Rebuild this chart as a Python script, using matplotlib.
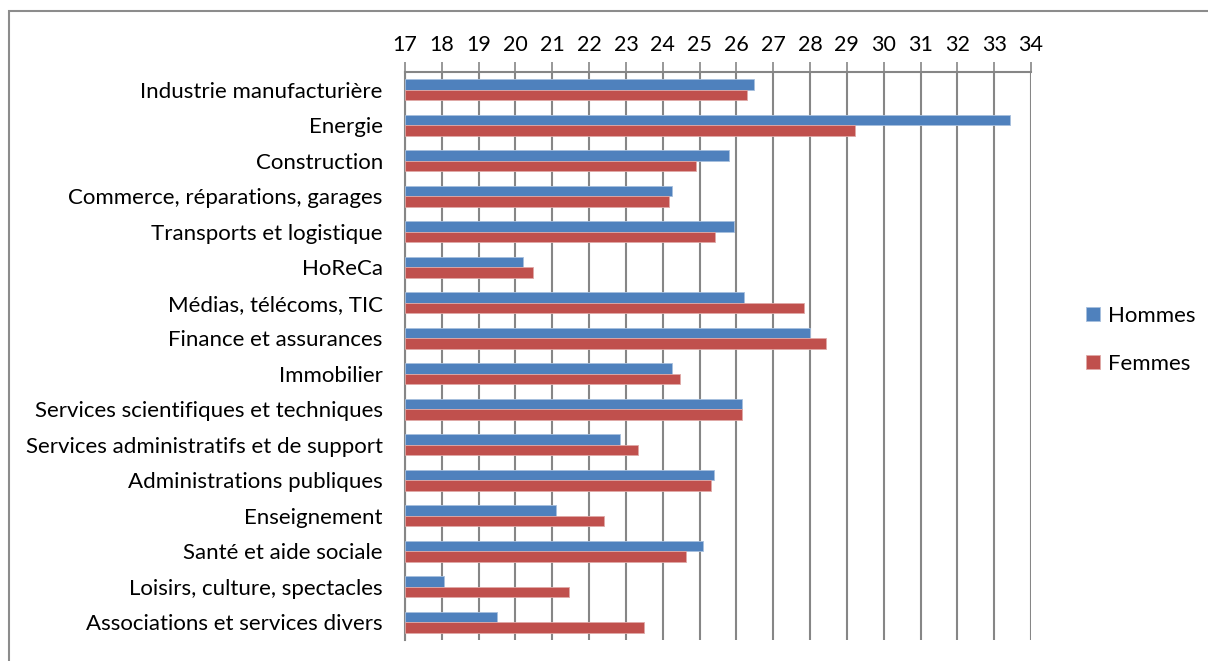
import matplotlib.pyplot as plt
import matplotlib
import numpy as np
from matplotlib.patches import Rectangle

matplotlib.rcParams['font.family'] = ['Lato', 'DejaVu Sans']

# données
secteurs = ['Industrie manufacturière', 'Energie', 'Construction',
            'Commerce, réparations, garages', 'Transports et logistique',
            'HoReCa', 'Médias, télécoms, TIC', 'Finance et assurances',
            'Immobilier', 'Services scientifiques et techniques',
            'Services administratifs et de support', 'Administrations publiques',
            'Enseignement', 'Santé et aide sociale', 'Loisirs, culture, spectacles',
            'Associations et services divers']
hommes = [26.49, 33.43, 25.80, 24.24, 25.94, 20.20, 26.21, 27.99,
          24.24, 26.16, 22.83, 25.39, 21.09, 25.08, 18.07, 19.50]
femmes = [26.28, 29.21, 24.91, 24.18, 25.42, 20.47, 27.83, 28.44,
          24.47, 26.16, 23.33, 25.31, 22.40, 24.64, 21.46, 23.50]
ticks_x = list(range(17, 35))

bleu = '#4F81BD'
rouge = '#C0504D'
gris = '#868686'

fig = plt.figure(figsize=(12.08, 6.61), dpi=100)
ax = fig.add_axes([405 / 1208, 1 - 640 / 661, 626 / 1208, 568 / 661])

# cadre autour du graphique
fig.patches.append(Rectangle((9 / 1208, -0.2), 1.2, 1.2 - 11 / 661,
                             transform=fig.transFigure, fill=False,
                             edgecolor='#8c8c8c', linewidth=1.5))

y = np.arange(len(secteurs))
h = 0.29
ax.barh(y - h / 2, [v - 17 for v in hommes], height=h, left=17, color=bleu,
        edgecolor='#a7bfdd', linewidth=0.6, label='Hommes', zorder=3)
ax.barh(y + h / 2, [v - 17 for v in femmes], height=h, left=17, color=rouge,
        edgecolor='#dfa9a7', linewidth=0.6, label='Femmes', zorder=3)

ax.set_xlim(17, 34)
ax.set_ylim(len(secteurs) - 0.5, -0.5)
ax.set_xticks(ticks_x)
ax.xaxis.tick_top()
ax.tick_params(axis='x', direction='out', length=7.5, width=1.2, color=gris,
               labelsize=15.5, pad=5)
ax.set_yticks(y)
ax.set_yticklabels(secteurs)
ax.tick_params(axis='y', length=0, labelsize=16, pad=16)
ax.grid(axis='x', color=gris, linewidth=1.5, zorder=0)

for s in ['right', 'bottom']:
    ax.spines[s].set_visible(False)
for s in ['top', 'left']:
    ax.spines[s].set_color(gris)
    ax.spines[s].set_linewidth(1.5)

fig.legend(loc='center left', bbox_to_anchor=(1086 / 1208, 1 - 340 / 661),
           frameon=False, fontsize=16, handlelength=0.62, handleheight=0.62,
           handletextpad=0.35, labelspacing=1.25, borderpad=0, borderaxespad=0)

plt.savefig('out.png', dpi=100)
